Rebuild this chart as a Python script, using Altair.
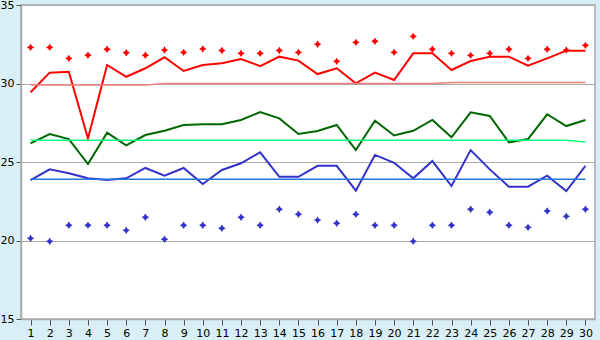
import altair as alt
import pandas as pd

days = list(range(1, 31))

red_line = [29.44, 30.69, 30.75, 26.5, 31.18, 30.43, 30.97, 31.67, 30.8, 31.18,
            31.29, 31.56, 31.11, 31.71, 31.46, 30.6, 30.97, 30.01, 30.69, 30.22,
            31.92, 31.92, 30.86, 31.43, 31.71, 31.71, 31.13, 31.6, 32.09, 32.09]
red_pts = [32.3, 32.3, 31.6, 31.8, 32.18, 31.96, 31.8, 32.13, 31.98, 32.2,
           32.1, 31.92, 31.92, 32.1, 31.98, 32.5, 31.41, 32.62, 32.69, 31.98,
           33.0, 32.18, 31.92, 31.79, 31.92, 32.18, 31.6, 32.18, 32.13, 32.43]
red_ref = [29.9] * 7 + [30.0] * 15 + [30.07] * 8

green_line = [26.19, 26.78, 26.46, 24.87, 26.87, 26.06, 26.72, 26.99, 27.36, 27.4,
              27.4, 27.68, 28.18, 27.78, 26.78, 26.97, 27.36, 25.76, 27.63, 26.69,
              26.99, 27.68, 26.57, 28.16, 27.93, 26.25, 26.46, 28.04, 27.29, 27.68]
green_ref = [26.38] * 29 + [26.27]

blue_line = [23.85, 24.53, 24.28, 23.96, 23.85, 23.96, 24.62, 24.13, 24.62, 23.6,
             24.49, 24.92, 25.62, 24.06, 24.06, 24.76, 24.76, 23.17, 25.45, 24.95,
             23.96, 25.06, 23.47, 25.76, 24.53, 23.43, 23.43, 24.13, 23.15, 24.75]
blue_pts = [20.14, 19.95, 20.97, 20.97, 20.97, 20.65, 21.48, 20.08, 20.97, 20.97,
            20.78, 21.48, 20.97, 21.99, 21.67, 21.3, 21.1, 21.67, 20.97, 20.97,
            19.95, 20.97, 20.97, 21.99, 21.8, 20.97, 20.84, 21.88, 21.54, 21.99]
blue_ref = [23.9] * 30

y_ticks = [15, 20, 25, 30, 35]

df = pd.DataFrame({
    "day": days,
    "red_line": red_line, "red_pts": red_pts, "red_ref": red_ref,
    "green_line": green_line, "green_ref": green_ref,
    "blue_line": blue_line, "blue_pts": blue_pts, "blue_ref": blue_ref,
})

x = alt.X("day:Q", scale=alt.Scale(domain=[0.5, 30.5], nice=False, zero=False),
          axis=alt.Axis(values=days, title=None, grid=False, tickSize=6,
                        labelPadding=2, format="d"))
yaxis = alt.Axis(values=y_ticks, title=None, grid=True, gridColor="#aaaaaa",
                 gridWidth=1.2, tickSize=5, labelPadding=2, format="d")
def y(field):
    return alt.Y(f"{field}:Q", scale=alt.Scale(domain=[15, 35], nice=False, zero=False),
                 axis=yaxis)

star = "M0,-1 L0.38,-0.38 L1,0 L0.38,0.38 L0,1 L-0.38,0.38 L-1,0 L-0.38,-0.38 Z"

base = alt.Chart(df)
layers = [
    base.mark_line(color="#ff0000", strokeWidth=2).encode(x=x, y=y("red_line")),
    base.mark_line(color="#006600", strokeWidth=2).encode(x=x, y=y("green_line")),
    base.mark_line(color="#3333cc", strokeWidth=2).encode(x=x, y=y("blue_line")),
    base.mark_line(color="#f08080", strokeWidth=1.5).encode(x=x, y=y("red_ref")),
    base.mark_line(color="#00ff80", strokeWidth=1.5).encode(x=x, y=y("green_ref")),
    base.mark_line(color="#2277dd", strokeWidth=1.5).encode(x=x, y=y("blue_ref")),
    base.mark_point(shape=star, filled=True, color="#ff0000", size=55, opacity=1).encode(x=x, y=y("red_pts")),
    base.mark_point(shape=star, filled=True, color="#3333cc", size=55, opacity=1).encode(x=x, y=y("blue_pts")),
]

chart = alt.layer(*layers).properties(
    width=574, height=314,
    background="#d9eff6",
    padding={"left": 21, "top": 5, "right": 5, "bottom": 21},
    autosize=alt.AutoSizeParams(type="none"),
).configure_view(
    fill="white", stroke="#aaaaaa", strokeWidth=1.5
).configure_axis(
    domainColor="#aaaaaa", domainWidth=1.5, tickColor="#555555",
    labelColor="black", labelFont="DejaVu Sans", labelFontSize=11,
)

chart.save("out.html", embed_options={"renderer": "svg", "actions": False})
